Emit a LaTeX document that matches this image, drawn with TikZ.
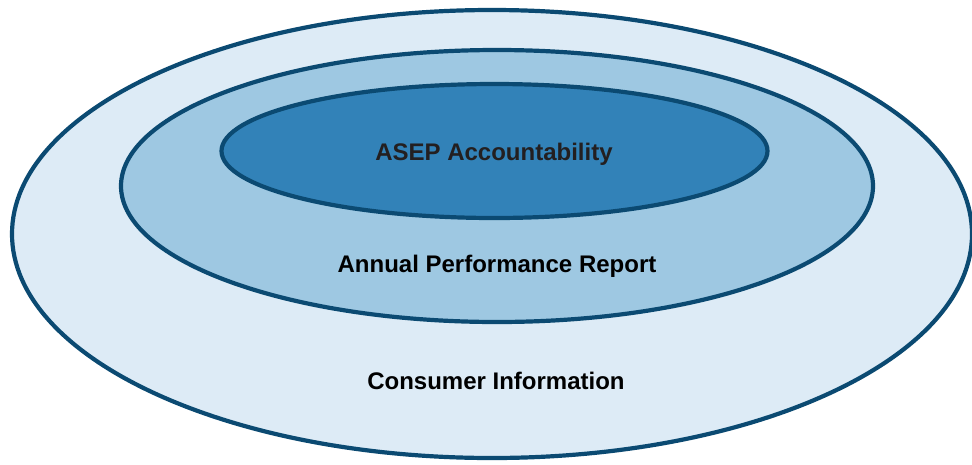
\documentclass[tikz,border=0pt]{standalone}
\usepackage{fontspec}
\setmainfont{Liberation Sans}
\definecolor{ringline}{HTML}{0B4A72}
\definecolor{outerfill}{HTML}{DDEBF6}
\definecolor{midfill}{HTML}{9EC8E2}
\definecolor{innerfill}{HTML}{3282B8}
\definecolor{labeltext}{HTML}{231F20}
\tikzset{
	ring/.style={draw=ringline, line width=4.2pt},
	label/.style={font=\fontsize{24}{28}\selectfont\bfseries, text=black}
}
\begin{document}
\begin{tikzpicture}[x=1pt, y=-1pt]
	\useasboundingbox (0, 0) rectangle (972, 464);
	
	\draw[ring, fill=outerfill] (492, 234) ellipse [x radius=480pt, y radius=224pt];
	\draw[ring, fill=midfill] (497, 186) ellipse [x radius=376pt, y radius=136pt];
	\draw[ring, fill=innerfill] (494.5, 151) ellipse [x radius=273pt, y radius=67pt];
	
	\node[label, text=labeltext] (asep) at (494, 154) {ASEP Accountability};
	\node[label] (apr) at (497, 266) {Annual Performance Report};
	\node[label] (consumer) at (496, 381) {Consumer Information};
\end{tikzpicture}
\end{document}
